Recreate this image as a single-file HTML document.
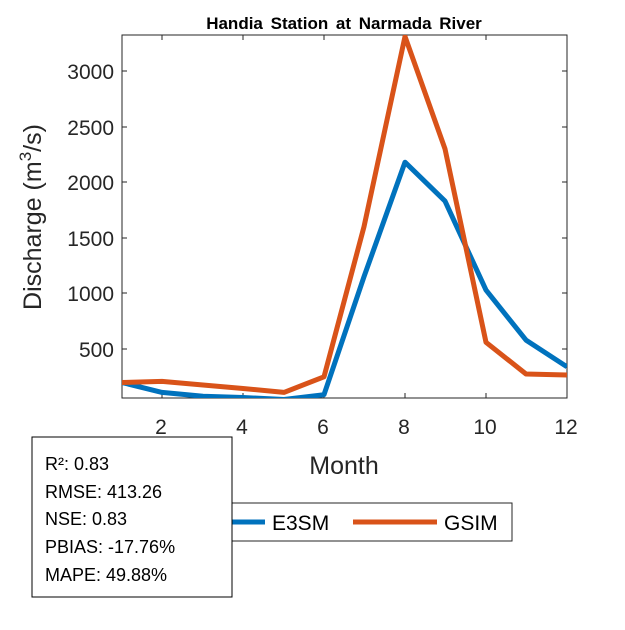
<!DOCTYPE html><html><head><style>body{margin:0;background:#fff}</style></head><body>
<svg width="625" height="625" xmlns="http://www.w3.org/2000/svg" font-family="Liberation Sans, sans-serif">
<rect width="625" height="625" fill="#fff"/>
<rect x="122" y="35" width="445" height="363" fill="#fff" stroke="#262626" stroke-width="1"/>
<g stroke="#262626" stroke-width="1">
<line x1="162" y1="398" x2="162" y2="393"/><line x1="243" y1="398" x2="243" y2="393"/><line x1="324" y1="398" x2="324" y2="393"/><line x1="405" y1="398" x2="405" y2="393"/><line x1="486" y1="398" x2="486" y2="393"/>
<line x1="162" y1="35" x2="162" y2="40"/><line x1="243" y1="35" x2="243" y2="40"/><line x1="324" y1="35" x2="324" y2="40"/><line x1="405" y1="35" x2="405" y2="40"/><line x1="486" y1="35" x2="486" y2="40"/>
<line x1="122" y1="349" x2="127" y2="349"/><line x1="122" y1="293" x2="127" y2="293"/><line x1="122" y1="238" x2="127" y2="238"/><line x1="122" y1="182" x2="127" y2="182"/><line x1="122" y1="127" x2="127" y2="127"/><line x1="122" y1="71" x2="127" y2="71"/>
<line x1="567" y1="349" x2="562" y2="349"/><line x1="567" y1="293" x2="562" y2="293"/><line x1="567" y1="238" x2="562" y2="238"/><line x1="567" y1="182" x2="562" y2="182"/><line x1="567" y1="127" x2="562" y2="127"/><line x1="567" y1="71" x2="562" y2="71"/>
</g>
<g font-size="21" fill="#262626" text-anchor="middle">
<text x="161" y="434">2</text><text x="242" y="434">4</text><text x="323" y="434">6</text><text x="404" y="434">8</text><text x="485" y="434">10</text><text x="566" y="434">12</text>
</g>
<g font-size="21" fill="#262626" text-anchor="end">
<text x="114" y="357">500</text><text x="114" y="301">1000</text><text x="114" y="246">1500</text><text x="114" y="190">2000</text><text x="114" y="135">2500</text><text x="114" y="79">3000</text>
</g>
<text x="344" y="474" font-size="25" fill="#262626" text-anchor="middle">Month</text>
<text transform="translate(41,217) rotate(-90)" font-size="25" fill="#262626" text-anchor="middle">Discharge (m<tspan dy="-10" font-size="17">3</tspan><tspan dy="10">/s)</tspan></text>
<text x="344" y="29" font-size="17" font-weight="bold" fill="#000" text-anchor="middle" word-spacing="3">Handia Station at Narmada River</text>
<clipPath id="c"><rect x="122" y="35" width="445" height="363"/></clipPath>
<g clip-path="url(#c)" fill="none" stroke-width="5" stroke-linejoin="round">
<polyline stroke="#0072BD" points="122,382.5 162,392.4 203,396.3 243,397.5 284,399.5 324,394.7 364,276.7 405,162.2 445,201.1 486,290.1 526,340.1 567,366.8"/>
<polyline stroke="#D95319" points="122,382.5 162,381.4 203,385.0 243,388.5 284,392.4 324,376.8 364,226.7 405,36.5 445,148.9 486,342.3 526,374.0 567,375.0"/>
</g>
<rect x="200" y="503" width="312" height="38" fill="#fff" stroke="#262626"/>
<line x1="200" y1="522" x2="265" y2="522" stroke="#0072BD" stroke-width="5"/>
<text x="272" y="530" font-size="21" fill="#000">E3SM</text>
<line x1="353" y1="522" x2="437" y2="522" stroke="#D95319" stroke-width="5"/>
<text x="444" y="530" font-size="21" fill="#000">GSIM</text>
<rect x="32" y="437" width="200" height="160" fill="#fff" stroke="#000"/>
<g font-size="18" fill="#000">
<text x="45" y="470">R²: 0.83</text><text x="45" y="498">RMSE: 413.26</text><text x="45" y="525">NSE: 0.83</text><text x="45" y="553">PBIAS: -17.76%</text><text x="45" y="581">MAPE: 49.88%</text>
</g>
</svg></body></html>
